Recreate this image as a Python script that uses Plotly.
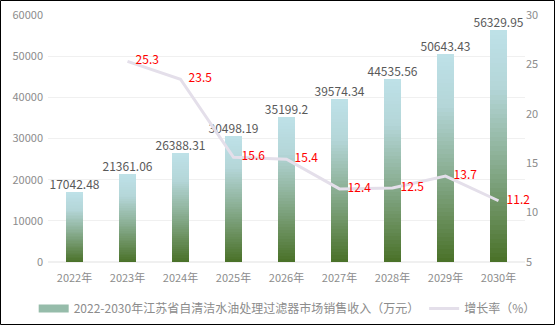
import plotly.graph_objects as go
import numpy as np

years = ["2022年", "2023年", "2024年", "2025年", "2026年", "2027年", "2028年", "2029年", "2030年"]
revenue = [17042.48, 21361.06, 26388.31, 30498.19, 35199.2, 39574.34, 44535.56, 50643.43, 56329.95]
revenue_labels = ["17042.48", "21361.06", "26388.31", "30498.19", "35199.2", "39574.34", "44535.56", "50643.43", "56329.95"]
growth_years = ["2023年", "2024年", "2025年", "2026年", "2027年", "2028年", "2029年", "2030年"]
growth = [25.3, 23.5, 15.6, 15.4, 12.4, 12.5, 13.7, 11.2]

bar_name = "2022-2030年江苏省自清洁水油处理过滤器市场销售收入（万元）"
line_name = "增长率（%）"

FONT = "Noto Sans CJK SC"

# gradient stops (fraction of bar height from bottom -> colour)
stops = [(0.0, (74, 113, 40)), (0.45, (140, 176, 150)), (0.75, (180, 214, 216)), (1.0, (190, 225, 232))]


def grad(t):
    for (t0, c0), (t1, c1) in zip(stops[:-1], stops[1:]):
        if t <= t1:
            f = (t - t0) / (t1 - t0) if t1 > t0 else 0
            return "rgb(%d,%d,%d)" % tuple(round(a + (b - a) * f) for a, b in zip(c0, c1))
    return "rgb(%d,%d,%d)" % stops[-1][1]


N = 50
fig = go.Figure()
rev = np.array(revenue)
for k in range(N):
    fig.add_trace(go.Bar(
        x=years, y=rev / N, marker=dict(color=grad((k + 0.5) / N), line=dict(width=0)),
        showlegend=False, hoverinfo="skip", width=0.32,
    ))

# legend entry for bars (wide rectangle swatch)
fig.add_trace(go.Scatter(x=[None], y=[None], mode="lines", name=bar_name,
                         line=dict(color="rgb(150,188,170)", width=8), hoverinfo="skip"))

# bar value labels
fig.add_trace(go.Scatter(
    x=years, y=revenue, mode="text", text=revenue_labels, textposition="top center",
    textfont=dict(color="#595959", size=12, family=FONT), showlegend=False, hoverinfo="skip",
    cliponaxis=False,
))

# growth line
fig.add_trace(go.Scatter(
    x=growth_years, y=growth, yaxis="y2", mode="lines+text", name=line_name,
    line=dict(color="#e4dfea", width=3), text=["   " + str(g) for g in growth],
    textposition="middle right", textfont=dict(color="#ff0000", size=12, family=FONT),
    cliponaxis=False,
))

W, H = 555, 325
ml, mr, mt, mb = 48, 30, 15, 63
pw, ph = W - ml - mr, H - mt - mb

fig.update_layout(
    width=W, height=H,
    margin=dict(l=ml, r=mr, t=mt, b=mb, autoexpand=False),
    barmode="stack", bargap=0.68,
    plot_bgcolor="white", paper_bgcolor="white",
    font=dict(family=FONT, size=11, color="#8c8c8c"),
    xaxis=dict(type="category", showgrid=False, showline=False, ticks="",
               ticklabelstandoff=8, tickfont=dict(size=11, color="#8c8c8c")),
    yaxis=dict(range=[0, 60000], dtick=10000, tickformat="d", showgrid=True, gridcolor="#f0f0f0",
               zeroline=True, zerolinecolor="#f0f0f0", showline=False, ticks="",
               ticklabelstandoff=4, tickfont=dict(size=11, color="#8c8c8c")),
    yaxis2=dict(range=[5, 30], dtick=5, overlaying="y", side="right", showgrid=False,
                zeroline=False, showline=False, ticks="",
                tickfont=dict(size=11, color="#8c8c8c")),
    legend=dict(orientation="h", x=-0.03, xanchor="left",
                y=-0.13, yanchor="top",
                font=dict(size=12, color="#8c8c8c", family=FONT), traceorder="normal",
                itemwidth=30, tracegroupgap=0),
    showlegend=True,
    shapes=[dict(type="rect", xref="paper", yref="paper",
                 x0=-ml / pw + 0.5 / pw, x1=1 + mr / pw - 0.5 / pw,
                 y0=-mb / ph + 0.5 / ph, y1=1 + mt / ph - 0.5 / ph,
                 line=dict(color="black", width=1))],
)

fig.write_html("out.html")
